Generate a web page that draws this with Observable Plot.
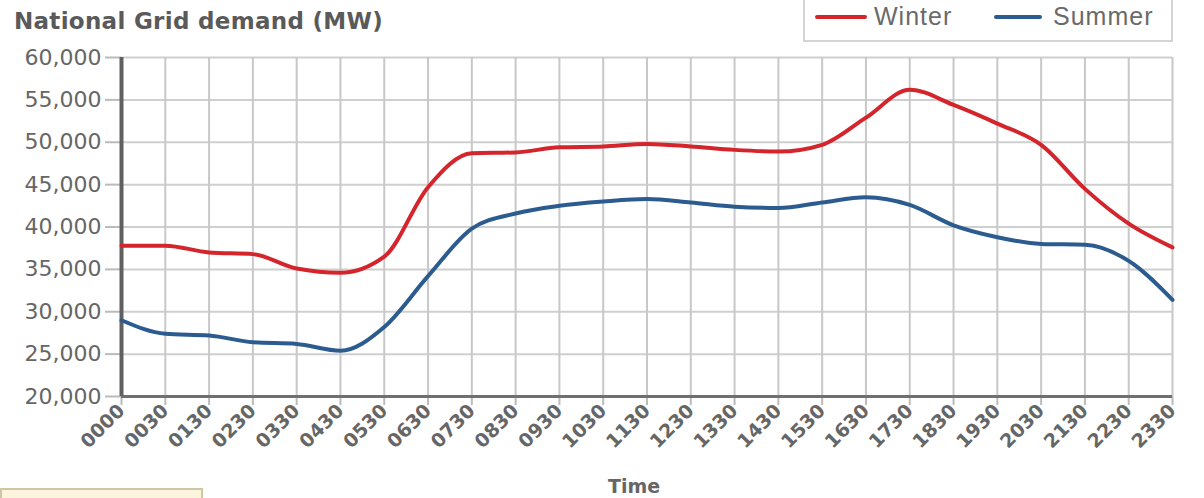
<!DOCTYPE html>
<html><head><meta charset="utf-8">
<script src="https://cdn.jsdelivr.net/npm/d3@7"></script>
<script src="https://cdn.jsdelivr.net/npm/@observablehq/plot@0.6"></script>
<style>
body{margin:0;background:#fff;width:1204px;height:498px;overflow:hidden;position:relative;font-family:"DejaVu Sans",sans-serif;}
#head{position:relative;height:40px;}
#title{position:absolute;left:14px;top:8px;font-weight:bold;font-size:23px;letter-spacing:0.3px;color:#5a5a5a;white-space:nowrap;}
#legend{position:absolute;left:803px;top:0;width:370px;height:42px;border:2px solid #d4d4d4;border-top:none;box-sizing:border-box;background:#fff;}
.sw{position:absolute;top:15px;height:4px;border-radius:2px;}
.lt{position:absolute;top:1px;line-height:30px;font-family:"Liberation Sans",Arial,sans-serif;font-size:25px;letter-spacing:1px;color:#6a6a6a;}
#note{position:absolute;left:0;top:488px;width:203px;height:14px;background:#faf5dc;border:2px solid #cfc6a6;box-sizing:border-box;}
#chart{position:absolute;left:0;top:40px;}
</style></head>
<body>
<div id="head">
  <div id="title">National Grid demand (MW)</div>
  <div id="legend">
    <div class="sw" style="left:10px;width:52px;background:#d4252c"></div>
    <div class="lt" style="left:69px">Winter</div>
    <div class="sw" style="left:189px;width:48px;background:#2c5c8f"></div>
    <div class="lt" style="left:248px">Summer</div>
  </div>
</div>
<div id="chart"></div>
<div id="note"></div>
<script>
const times = ["0000","0030","0130","0230","0330","0430","0530","0630","0730","0830","0930","1030","1130","1230","1330","1430","1530","1630","1730","1830","1930","2030","2130","2230","2330"];
const winter = [37800,37800,37000,36800,35100,34600,36500,44700,48700,48800,49400,49500,49800,49500,49100,48900,49700,52900,56200,54400,52200,49700,44500,40400,37600];
const summer = [29000,27400,27200,26400,26200,25400,28200,34200,39800,41600,42500,43000,43300,42900,42400,42250,42900,43500,42600,40200,38800,38000,37900,36000,31400];
const yTicks = [20000,25000,30000,35000,40000,45000,50000,55000,60000];

const winterData = times.map((t,i)=>({time:t, value:winter[i]}));
const summerData = times.map((t,i)=>({time:t, value:summer[i]}));

const chart = Plot.plot({
  width: 1204,
  height: 458,
  marginTop: 17,
  marginBottom: 102,
  marginLeft: 121,
  marginRight: 32,
  style: {background:"transparent", fontFamily:"DejaVu Sans, sans-serif"},
  x: {type:"point", domain: times, padding: 0, round: false},
  y: {domain:[20000,60000]},
  marks: [
    Plot.ruleY(yTicks, {stroke:"#cfcfcf", strokeWidth:2}),
    Plot.ruleX(times, {y1:20000, y2:60000, stroke:"#c8c8c8", strokeWidth:2}),
    Plot.axisY({ticks: yTicks, tickFormat: d3.format(","), tickSize: 16, tickPadding: 4, stroke:"#bbb", strokeWidth:2, fill:"#666", fontSize:22, letterSpacing:1, label:null}),
    Plot.axisX({tickRotate:-45, tickSize:9, tickPadding:2, stroke:"#bbb", strokeWidth:2, fill:"#666", fontSize:19, fontWeight:"bold", label:null}),
    Plot.ruleY([20000], {stroke:"#707070", strokeWidth:3}),
    Plot.ruleX([times[0]], {y1:20000, y2:60000, stroke:"#606060", strokeWidth:4}),
    Plot.lineY(summerData, {x:"time", y:"value", curve:"monotone-x", stroke:"#2c5c8f", strokeWidth:4}),
    Plot.lineY(winterData, {x:"time", y:"value", curve:"monotone-x", stroke:"#d4252c", strokeWidth:4}),
    Plot.text(["Time"], {frameAnchor:"bottom", text: d=>d, dy: 96, dx: -13, lineAnchor:"bottom", fontSize:19, fontWeight:"bold", fill:"#666"})
  ]
});
document.getElementById("chart").appendChild(chart);
</script>
</body></html>
